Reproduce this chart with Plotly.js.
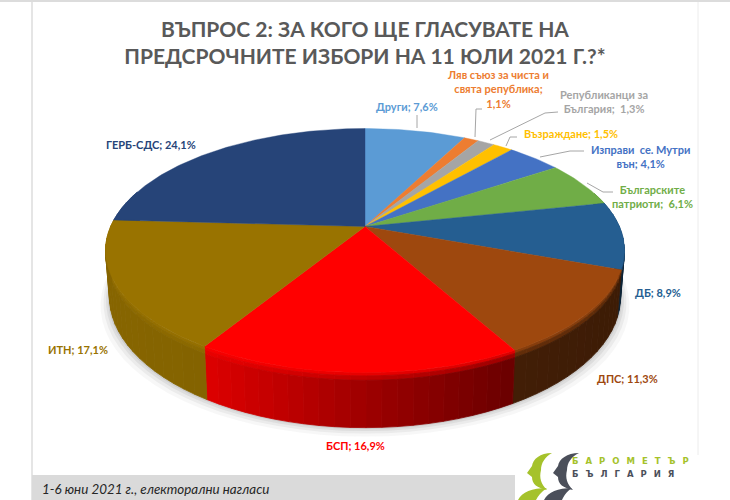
<!DOCTYPE html>
<html lang="bg">
<head>
<meta charset="utf-8">
<script src="https://cdn.plot.ly/plotly-3.0.1.min.js"></script>
<style>html,body{margin:0;padding:0;background:#fff}#chart{width:730px;height:500px}</style>
</head>
<body>
<div id="chart"></div>
<script>
// ---- data, clockwise from 12 o'clock ----
const parties = ["Други","Ляв съюз за чиста и свята република","Републиканци за България","Възраждане","Изправи се. Мутри вън","Българските патриоти","ДБ","ДПС","БСП","ИТН","ГЕРБ-СДС"];
const shares = [7.6,1.1,1.3,1.5,4.1,6.1,8.9,11.3,16.9,17.1,24.1];
const sliceColors = ["#5B9BD5","#ED7D31","#A5A5A5","#FFC000","#4472C4","#70AD47","#255E91","#9E480E","#FF0000","#997300","#264478"];
const labelTexts = ["Други; 7,6%","Ляв съюз за чиста и<br>свята република;<br>1,1%","Републиканци за<br>България;  1,3%","Възраждане; 1,5%","Изправи  се. Мутри<br>вън; 4,1%","Българските<br>патриоти;  6,1%","ДБ; 8,9%","ДПС; 11,3%","БСП; 16,9%","ИТН; 17,1%","ГЕРБ-СДС; 24,1%"];
const titleText = "ВЪПРОС 2: ЗА КОГО ЩЕ ГЛАСУВАТЕ НА<br>ПРЕДСРОЧНИТЕ ИЗБОРИ НА 11 ЮЛИ 2021 Г.?*";
const footerText = "1-6 юни 2021 г., електорални нагласи";
const logoTop = "БАРОМЕТЪР", logoBottom = "БЪЛГАРИЯ";

// ---- layout: label anchors and leader lines ----
const labelPos = [[407,106],[498,89],[604,101],[571,133],[640,156],[652,196],[658,292],[627,378],[355,445],[78,349],[151,144]];
const leaders = [
  [[417,115],[417,128]],
  [[482,109],[476,109],[475,137]],
  [[558,112],[545,113],[490,140]],
  [[517,137],[510,137],[506,146]],
  [[584,151],[570,151],[540,157]],
  [[613,192],[603,192],[587,183]]
];

// ---- perspective disc ----
const view = {cx:365, vy:226.5, rx:254.4, ry:117.3, p:0.197, ey:250, ey2:296, ryScale:131/122, rxScale:0.985};
function rimPoint(t){ // t = angle in degrees clockwise from 12 o'clock
  const a=t*Math.PI/180, X=Math.sin(a), Y=-Math.cos(a), d=1-view.p*Y;
  return [view.cx+view.rx*X/d, view.vy+view.ry*Y/d, Y];
}
function side(t,f){ // point on the wall, f=0 at the rim, f=1 at the bottom
  const q=rimPoint(t);
  const bx=view.cx+(q[0]-view.cx)*view.rxScale, by=view.ey2+(q[1]-view.ey)*view.ryScale;
  return [q[0]+(bx-q[0])*f, q[1]+(by-q[1])*f];
}
function rgb(h){return [1,3,5].map(i=>parseInt(h.substr(i,2),16));}
function css(c){return "rgb("+c.map(v=>Math.round(v)).join(",")+")";}
const shadeStops=[[100,.88],[210,.86],[365,.62],[510,.42],[630,.38]];
function shade(x){
  for(let i=1;i<shadeStops.length;i++){
    if(x<=shadeStops[i][0]){
      const a=shadeStops[i-1],b=shadeStops[i],u=Math.max(0,(x-a[0])/(b[0]-a[0]));
      return a[1]+(b[1]-a[1])*u;
    }
  }
  return .38;
}
function poly(xs,ys,color,extra){
  return Object.assign({type:"scatter",mode:"lines",x:xs,y:ys,fill:"toself",fillcolor:color,
    line:{color:color,width:0.8},hoverinfo:"skip",showlegend:false},extra||{});
}

const traces=[];
// soft shadow below the disc
[[9,.05],[6,.07],[3.5,.09],[1.5,.12]].forEach(([g,o])=>{
  const xs=[],ys=[];
  for(let t=0;t<=360;t+=4){const s=side(t,1);xs.push(s[0]+(s[0]-view.cx)*g/260);ys.push(s[1]+g);}
  traces.push(poly(xs,ys,"rgba(90,90,90,"+o+")",{line:{width:0}}));
});
// walls
let start=0;
const total=shares.reduce((a,b)=>a+b,0);
const tiers=[[0,.06,.75],[.06,.14,.35],[.14,1,0]];
shares.forEach((v,i)=>{
  const span=v/total*360, n=Math.max(1,Math.ceil(span/3)), base=rgb(sliceColors[i]);
  for(let k=0;k<n;k++){
    const t1=start+span*k/n, t2=start+span*(k+1)/n, mid=rimPoint((t1+t2)/2);
    if(mid[2]<-0.3) continue;
    const s=shade(mid[0]);
    tiers.forEach(([f1,f2,mix])=>{
      const c=base.map(b=>b*s+(b-b*s)*mix);
      const a=side(t1,f1),b=side(t2,f1),d=side(t2,f2),e=side(t1,f2);
      traces.push(poly([a[0],b[0],d[0],e[0],a[0]],[a[1],b[1],d[1],e[1],a[1]],css(c)));
    });
  }
  start+=span;
});
// faces
start=0;
shares.forEach((v,i)=>{
  const span=v/total*360, n=Math.max(4,Math.ceil(span)), xs=[view.cx], ys=[view.vy];
  for(let k=0;k<=n;k++){const q=rimPoint(start+span*k/n);xs.push(q[0]);ys.push(q[1]);}
  xs.push(view.cx);ys.push(view.vy);
  traces.push(poly(xs,ys,sliceColors[i],{name:parties[i],text:parties[i],line:{color:sliceColors[i],width:0.4}}));
  start+=span;
});
// leader lines
leaders.forEach(l=>traces.push({type:"scatter",mode:"lines",x:l.map(p=>p[0]),y:l.map(p=>p[1]),
  line:{color:"#a6a6a6",width:1},hoverinfo:"skip",showlegend:false}));

const labelFont="Lato, 'Open Sans', sans-serif";
const annotations=labelTexts.map((t,i)=>({x:labelPos[i][0],y:labelPos[i][1],xref:"x",yref:"y",text:"<b>"+t+"</b>",showarrow:false,
  xanchor:"center",yanchor:"middle",align:"center",font:{family:labelFont,size:11,color:sliceColors[i]}}));
annotations.push({x:40,y:488.5,xref:"x",yref:"y",text:"<i>"+footerText+"</i>",showarrow:false,xanchor:"left",yanchor:"middle",
  font:{family:labelFont,size:13.4,color:"#262626"}});
annotations.push({x:570,y:461,xref:"x",yref:"y",text:'<b><span style="letter-spacing:7px">'+logoTop+'</span></b>',showarrow:false,xanchor:"left",yanchor:"middle",
  font:{family:"DejaVu Sans",size:8.5,color:"#A5C22B"}});
annotations.push({x:570,y:474,xref:"x",yref:"y",text:'<b><span style="letter-spacing:7px">'+logoBottom+'</span></b>',showarrow:false,xanchor:"left",yanchor:"middle",
  font:{family:"DejaVu Sans",size:8.5,color:"#4B4F5A"}});

const frame="#d4d4d4";
const shapes=[
  {type:"rect",xref:"x",yref:"y",x0:0,x1:730,y0:0,y1:2,fillcolor:"#dcdcdc",line:{width:0},layer:"below"},
  {type:"line",xref:"x",yref:"y",x0:32,x1:32,y0:2,y1:500,line:{color:frame,width:1.2},layer:"below"},
  {type:"line",xref:"x",yref:"y",x0:698,x1:698,y0:2,y1:455,line:{color:"#ececec",width:1},layer:"below"},
  {type:"rect",xref:"x",yref:"y",x0:32,x1:515,y0:475,y1:500,fillcolor:"#dadada",line:{width:0},layer:"below"},
  // logo heads
  {type:"path",xref:"x",yref:"y",path:"M552,453 C540,453 533,459 532,466 L527,473 L532,477 C532,484 537,488 547,490 C541,484 539,478 541,470 C541,463 545,457 552,453 Z",fillcolor:"#A5C22B",line:{width:0}},
  {type:"path",xref:"x",yref:"y",path:"M518,500 C522,492 532,488 547,488 C541,492 538,496 536,500 Z",fillcolor:"#A5C22B",line:{width:0}},
  {type:"path",xref:"x",yref:"y",path:"M579,453 C567,453 559,459 558,466 L553,473 L558,477 C558,484 563,488 573,490 C567,484 565,478 567,470 C567,463 571,457 579,453 Z",fillcolor:"#4B4F5A",line:{width:0}},
  {type:"path",xref:"x",yref:"y",path:"M544,500 C548,492 558,488 572,488 C566,492 564,496 562,500 Z",fillcolor:"#4B4F5A",line:{width:0}}
];

const layout={
  width:730,height:500,margin:{l:0,r:0,t:0,b:0},paper_bgcolor:"#fff",plot_bgcolor:"#fff",showlegend:false,
  title:{text:"<b>"+titleText+"</b>",x:0.5,xanchor:"center",y:0.927,yanchor:"top",pad:{t:0},font:{family:labelFont,size:21,color:"#595959"}},
  xaxis:{range:[0,730],visible:false,fixedrange:true},
  yaxis:{range:[500,0],visible:false,fixedrange:true},
  annotations:annotations,shapes:shapes
};
Plotly.newPlot("chart",traces,layout,{displayModeBar:false,staticPlot:true});
</script>
</body>
</html>
